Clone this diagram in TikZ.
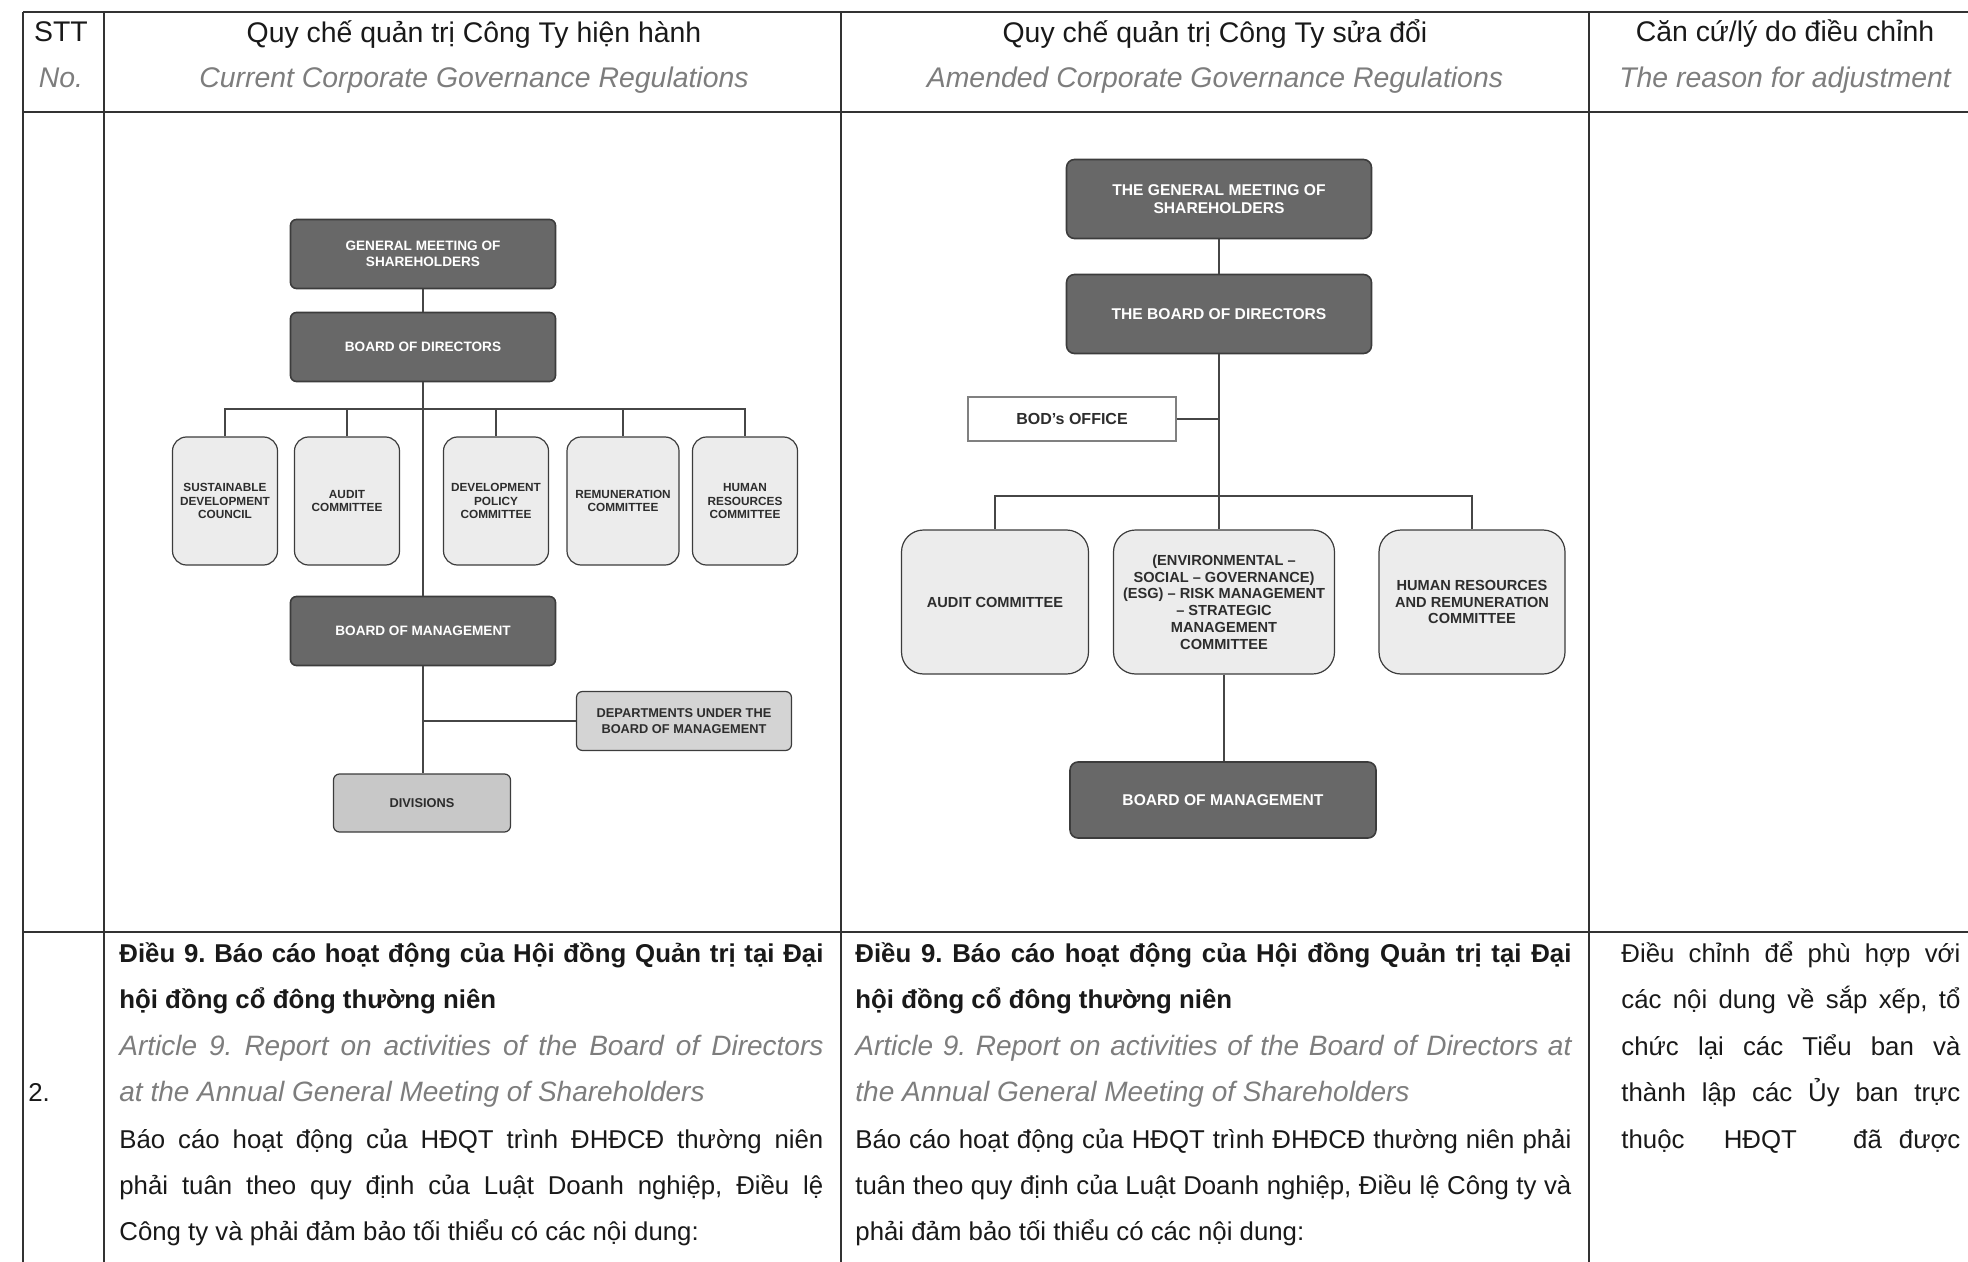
\documentclass[tikz,border=0pt]{standalone}
\usepackage{fontspec}
\setmainfont{Liberation Sans}

% one justified line of a table cell
\newcommand{\fillline}[2]{\makebox[#1][s]{#2}}

\begin{document}
\frenchspacing
\begin{tikzpicture}[x=0.5pt, y=-0.5pt,
    link/.style={draw=linkgray, line width=0.75pt},
    grid/.style={draw=gridline, line width=0.8pt},
    darkbox/.style={draw=boxedge, fill=boxdark, line width=0.8pt, text=white, align=center, inner sep=1pt},
    lhead/.style={darkbox, rounded corners=3pt, minimum width=132.5pt, minimum height=34.5pt, font=\fontsize{6.8pt}{8.2pt}\selectfont\bfseries},
    lcomm/.style={draw=boxedge, fill=boxlight, line width=0.6pt, rounded corners=7pt, text=inkgray, align=center, inner sep=1pt, minimum width=52.5pt, minimum height=64pt, font=\fontsize{5.9pt}{6.9pt}\selectfont\bfseries},
    lsub/.style={draw=boxedge, line width=0.6pt, rounded corners=3pt, text=inkgray, align=center, inner sep=1pt, font=\fontsize{6.4pt}{8.1pt}\selectfont\bfseries},
    rhead/.style={darkbox, rounded corners=4pt, minimum width=152.5pt, minimum height=39.5pt, font=\fontsize{7.8pt}{8.8pt}\selectfont\bfseries},
    rcomm/.style={draw=boxedge, fill=boxlight, line width=0.6pt, rounded corners=11pt, text=inkgray, align=center, inner sep=1pt, minimum height=72pt, font=\fontsize{7.3pt}{8.4pt}\selectfont\bfseries},
    roffice/.style={draw=gray, fill=white, line width=0.6pt, text=inkgray, minimum width=104pt, minimum height=22pt, inner sep=1pt, font=\fontsize{8pt}{9pt}\selectfont\bfseries},
    headtxt/.style={anchor=base, inner sep=0, text=inkdark, font=\fontsize{14.2pt}{17pt}\selectfont},
    headsub/.style={anchor=base, inner sep=0, text=textgray, font=\fontsize{14.2pt}{17pt}\selectfont\itshape},
    body/.style={anchor=base west, inner sep=0, text=inkdark, font=\fontsize{12.9pt}{15pt}\selectfont},
    bodybold/.style={body, font=\fontsize{12.9pt}{15pt}\selectfont\bfseries},
    bodyital/.style={body, text=textgray, font=\fontsize{14pt}{16pt}\selectfont\itshape}]

    % Define colors
    \definecolor{boxdark}{RGB}{104,104,104}
    \definecolor{boxedge}{RGB}{60,60,60}
    \definecolor{boxlight}{RGB}{236,236,236}
    \definecolor{boxmid}{RGB}{212,212,212}
    \definecolor{boxdiv}{RGB}{200,200,200}
    \definecolor{linkgray}{RGB}{70,70,70}
    \definecolor{gridline}{RGB}{50,50,50}
    \definecolor{textgray}{RGB}{125,125,125}
    \definecolor{inkgray}{RGB}{45,45,45}
    \definecolor{inkdark}{RGB}{25,25,25}

    \useasboundingbox (0,0) rectangle (1968,1262);

    % Table grid
    \draw[grid] (23,12) -- (1968,12) (23,112) -- (1968,112) (23,932) -- (1968,932);
    \draw[grid] (23,12) -- (23,1262) (104,12) -- (104,1262) (841,12) -- (841,1262) (1589,12) -- (1589,1262);

    % Header row
    \node[headtxt] (stt) at (61,42) {STT};
    \node[headsub] (sttno) at (61,88) {No.};
    \node[headtxt] (curvi) at (474,43) {Quy chế quản trị Công Ty hiện hành};
    \node[headsub] (curen) at (474,88) {Current Corporate Governance Regulations};
    \node[headtxt] (newvi) at (1215,43) {Quy chế quản trị Công Ty sửa đổi};
    \node[headsub] (newen) at (1215,88) {Amended Corporate Governance Regulations};
    \node[headtxt] (whyvi) at (1785,42) {Căn cứ/lý do điều chỉnh};
    \node[headsub] (whyen) at (1785,88) {The reason for adjustment};

    % Current structure
    \node[lhead] (lgms) at (423,254) {GENERAL MEETING OF\\SHAREHOLDERS};
    \node[lhead] (lbod) at (423,347) {BOARD OF DIRECTORS};
    \node[lcomm] (lsdc) at (225,501) {SUSTAINABLE\\DEVELOPMENT\\COUNCIL};
    \node[lcomm] (lac) at (347,501) {AUDIT\\COMMITTEE};
    \node[lcomm] (ldpc) at (496,501) {DEVELOPMENT\\POLICY\\COMMITTEE};
    \node[lcomm, minimum width=56pt] (lrc) at (623,501) {REMUNERATION\\COMMITTEE};
    \node[lcomm] (lhrc) at (745,501) {HUMAN\\RESOURCES\\COMMITTEE};
    \node[lhead] (lbom) at (423,631) {BOARD OF MANAGEMENT};
    \node[lsub, fill=boxmid, minimum width=107.5pt, minimum height=29.5pt] (ldept) at (684,721) {DEPARTMENTS UNDER THE\\BOARD OF MANAGEMENT};
    \node[lsub, fill=boxdiv, minimum width=88.5pt, minimum height=29pt] (ldiv) at (422,803) {DIVISIONS};

    \coordinate (lbus) at (423,409);
    \draw[link] (lgms) -- (lbod);
    \draw[link] (lbod.south) -- (lbom.north);
    \draw[link] (lsdc.north) |- (lbus) -| (lhrc.north);
    \foreach \c in {lac,ldpc,lrc}
        \draw[link] (\c.north) -- (\c.north |- lbus);
    \draw[link] (lbom.south) -- (lbom.south |- ldiv.north);
    \draw[link] (ldept.west) -- (ldept.west -| lbom.south);

    % Amended structure
    \node[rhead] (rgms) at (1219,199) {THE GENERAL MEETING OF\\SHAREHOLDERS};
    \node[rhead] (rbod) at (1219,314) {THE BOARD OF DIRECTORS};
    \node[roffice] (roff) at (1072,419) {BOD's OFFICE};
    \node[rcomm, minimum width=93.5pt] (rac) at (995,602) {AUDIT COMMITTEE};
    \node[rcomm, minimum width=110.5pt] (resg) at (1224,602) {(ENVIRONMENTAL –\\SOCIAL – GOVERNANCE)\\(ESG) – RISK MANAGEMENT\\– STRATEGIC\\MANAGEMENT\\COMMITTEE};
    \node[rcomm, minimum width=93pt] (rhrc) at (1472,602) {HUMAN RESOURCES\\AND REMUNERATION\\COMMITTEE};
    \node[rhead, minimum width=153pt, minimum height=38pt] (rbom) at (1223,800) {BOARD OF MANAGEMENT};

    \coordinate (rbus) at (1219,496);
    \draw[link] (rgms) -- (rbod);
    \draw[link] (rbod.south) -- (rbus);
    \draw[link] (roff.east) -- (roff.east -| rbod.south);
    \draw[link] (rac.north) |- (rbus) -| (rhrc.north);
    \draw[link] (rbus) -- (rbus |- resg.north);
    \draw[link] (resg.south) -- (resg.south |- rbom.north);

    % Row 2
    \node[body] (num) at (28,1101) {2.};

    \node[bodybold] (a1) at (119,962) {\fillline{352pt}{Điều 9. Báo cáo hoạt động của Hội đồng Quản trị tại Đại}};
    \node[bodybold] (a2) at (119,1008) {hội đồng cổ đông thường niên};
    \node[bodyital] (a3) at (119,1055) {\fillline{352pt}{Article 9. Report on activities of the Board of Directors}};
    \node[bodyital] (a4) at (119,1101) {at the Annual General Meeting of Shareholders};
    \node[body] (a5) at (119,1148) {\fillline{352pt}{Báo cáo hoạt động của HĐQT trình ĐHĐCĐ thường niên}};
    \node[body] (a6) at (119,1194) {\fillline{352pt}{phải tuân theo quy định của Luật Doanh nghiệp, Điều lệ}};
    \node[body] (a7) at (119,1240) {Công ty và phải đảm bảo tối thiểu có các nội dung:};

    \node[bodybold] (b1) at (855,962) {\fillline{358pt}{Điều 9. Báo cáo hoạt động của Hội đồng Quản trị tại Đại}};
    \node[bodybold] (b2) at (855,1008) {hội đồng cổ đông thường niên};
    \node[bodyital] (b3) at (855,1055) {\fillline{358pt}{Article 9. Report on activities of the Board of Directors at}};
    \node[bodyital] (b4) at (855,1101) {the Annual General Meeting of Shareholders};
    \node[body] (b5) at (855,1148) {\fillline{358pt}{Báo cáo hoạt động của HĐQT trình ĐHĐCĐ thường niên phải}};
    \node[body] (b6) at (855,1194) {\fillline{358pt}{tuân theo quy định của Luật Doanh nghiệp, Điều lệ Công ty và}};
    \node[body] (b7) at (855,1240) {phải đảm bảo tối thiểu có các nội dung:};

    \node[body] (c1) at (1621,962) {\fillline{169.5pt}{Điều chỉnh để phù hợp với}};
    \node[body] (c2) at (1621,1008) {\fillline{169.5pt}{các nội dung về sắp xếp, tổ}};
    \node[body] (c3) at (1621,1055) {\fillline{169.5pt}{chức lại các Tiểu ban và}};
    \node[body] (c4) at (1621,1101) {\fillline{169.5pt}{thành lập các Ủy ban trực}};
    \node[body] (c5) at (1621,1148) {\hbox to 169.5pt{thuộc\hspace{\stretch{2.3}}HĐQT\hspace{\stretch{3.3}}đã\hspace{\stretch{1}}được}};
\end{tikzpicture}
\end{document}
